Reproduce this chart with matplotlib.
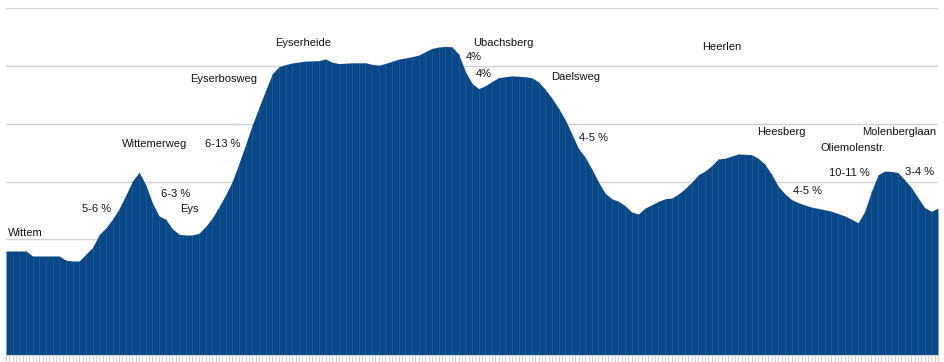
import matplotlib
matplotlib.use("Agg")
import matplotlib.pyplot as plt
import numpy as np

plt.rcParams['font.family'] = ['Liberation Sans', 'DejaVu Sans']

# Elevation profile (m), equally spaced samples along the route
elevation = [
    94.0, 94.0, 94.0, 94.0, 91.4, 91.4, 91.4, 91.4, 91.4, 89.2,
    88.8, 88.8, 92.4, 95.8, 102.5, 106.0, 110.5, 116.0, 123.0, 130.3,
    134.9, 128.3, 118.9, 112.2, 110.4, 105.5, 102.7, 102.3, 102.3, 103.2,
    106.8, 111.2, 117.0, 123.2, 130.2, 139.5, 149.4, 159.5, 168.5, 177.4,
    186.0, 189.7, 190.8, 191.6, 192.1, 192.6, 192.7, 192.8, 193.7, 192.0,
    191.3, 191.5, 191.7, 191.7, 191.7, 190.9, 190.4, 191.4, 192.5, 193.6,
    194.2, 194.9, 195.7, 197.5, 199.2, 199.9, 200.2, 200.0, 196.2, 187.2,
    181.0, 178.3, 179.8, 182.0, 184.0, 184.5, 184.9, 184.7, 184.5, 183.9,
    181.8, 177.9, 173.4, 168.0, 162.2, 154.7, 147.2, 142.7, 136.5, 129.8,
    124.0, 121.1, 119.8, 117.5, 114.2, 113.2, 116.3, 118.0, 119.8, 121.1,
    121.5, 123.6, 126.4, 129.7, 133.5, 135.5, 138.3, 141.8, 142.1, 143.3,
    144.4, 144.2, 144.0, 142.1, 139.0, 133.8, 127.6, 123.7, 120.7, 119.1,
    117.9, 116.8, 116.1, 115.4, 114.6, 113.4, 112.2, 110.5, 108.6, 114.6,
    124.9, 133.6, 135.5, 135.3, 134.7, 130.9, 126.9, 121.6, 116.5, 114.6,
    116.2,
]

# Annotation texts along the route
labels = ["Wittem", "5-6 %", "Wittemerweg", "6-13 %", "6-3 %", "Eys",
          "Eyserbosweg", "Eyserheide", "Ubachsberg", "4%", "4%", "Daelsweg",
          "4-5 %", "Heerlen", "Heesberg", "Molenberglaan", "Oliemolenstr.",
          "10-11 %", "3-4 %", "4-5 %"]
label_x = [0.3, 11.4, 17.4, 29.9, 23.3, 26.1, 27.6, 40.4, 70.2, 69.0, 70.5,
           81.9, 86.1, 104.6, 112.8, 128.6, 122.3, 123.6, 135.0, 118.2]
label_y = [103.4, 115.8, 149.6, 149.6, 123.6, 115.8, 183.4, 202.1, 202.1,
           194.8, 186.0, 184.4, 152.7, 200.0, 155.8, 155.8, 147.5, 134.6,
           135.1, 125.2]

y_min, y_max, y_step = 40, 220, 30

fig = plt.figure(figsize=(9.44, 3.62), dpi=100)
ax = fig.add_axes([6/944, 7/362, 932/944, (355-8.3)/362])

x = np.arange(len(elevation))
elev = np.array(elevation)

fill_color = "#094886"
ax.fill_between(x, y_min, elev, color=fill_color, linewidth=0, zorder=2)
ax.vlines(x[1:-1], y_min, elev[1:-1], color="#2a639e", linewidth=0.7,
          alpha=0.55, zorder=3)

ax.set_xlim(0, len(elevation) - 1)
ax.set_ylim(y_min, y_max)
ax.set_yticks(np.arange(y_min, y_max + 1, y_step))
ax.yaxis.grid(True, color="#d3d3d3", linewidth=1.0, zorder=0)
ax.set_axisbelow(True)
ax.tick_params(axis='y', length=0, labelleft=False)
ax.set_xticks(np.arange(0, len(elevation) - 0.5, 0.5))
ax.tick_params(axis='x', length=5, color="#c8c8c8", width=0.6,
               labelbottom=False)
for s in ["top", "right", "left"]:
    ax.spines[s].set_visible(False)
ax.spines["bottom"].set_color("#d3d3d3")

for t, lx, ly in zip(labels, label_x, label_y):
    ax.text(lx, ly, t, fontsize=8, color="#111111", ha="left", va="center",
            zorder=5)

fig.savefig("out.png", dpi=100, facecolor="white")
